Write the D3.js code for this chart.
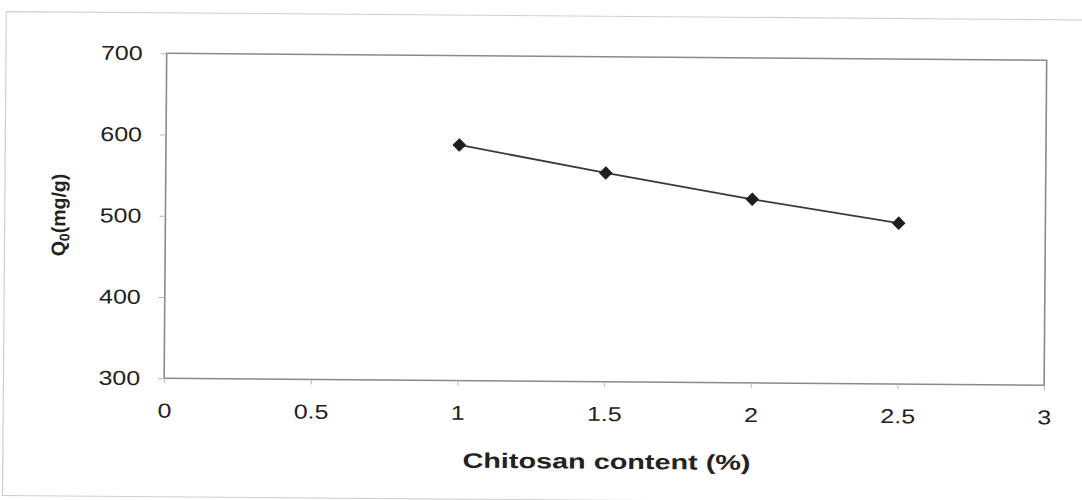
<!DOCTYPE html>
<html>
<head>
<meta charset="utf-8">
<script src="https://cdn.jsdelivr.net/npm/d3@7"></script>
<style>
  html, body { margin: 0; padding: 0; background: #fff; }
  svg { display: block; }
  text { font-family: Arial, "Liberation Sans", sans-serif; fill: #222; }
</style>
</head>
<body>
<svg id="chart" width="1082" height="500"></svg>
<script>
// Chitosan content (%) vs maximum adsorption capacity Q0 (mg/g)
const chitosan = [1, 1.5, 2, 2.5];
const q0 = [590, 557, 526, 498];
const xTicks = [0, 0.5, 1, 1.5, 2, 2.5, 3];
const yTicks = [300, 400, 500, 600, 700];

const plot = { left: 166.7, top: 53.3, width: 880, height: 325 };
const stretch = 1.25; // glyphs are set wide

const svg = d3.select("#chart");
// the whole sheet sits at a slight clockwise tilt
const root = svg.append("g")
  .attr("transform", `rotate(0.45, ${plot.left}, ${plot.top})`);

// outer sheet border
root.append("rect")
  .attr("x", 6).attr("y", plot.top - 40.5).attr("width", 1100).attr("height", 484)
  .attr("fill", "none").attr("stroke", "#cfcfcf").attr("stroke-width", 1.2);

const x = d3.scaleLinear().domain([0, 3]).range([0, plot.width]);
const y = d3.scaleLinear().domain([300, 700]).range([plot.height, 0]);

const g = root.append("g").attr("transform", `translate(${plot.left},${plot.top})`);

// plot frame
g.append("rect")
  .attr("x", 0).attr("y", 0).attr("width", plot.width).attr("height", plot.height)
  .attr("fill", "none").attr("stroke", "#8a8a8a").attr("stroke-width", 1.6);

// axes
const xAxis = g.append("g").attr("transform", `translate(0,${plot.height})`)
  .call(d3.axisBottom(x).tickValues(xTicks).tickSize(5).tickPadding(20)
    .tickFormat(d => String(d)));
const yAxis = g.append("g")
  .call(d3.axisLeft(y).tickValues(yTicks).tickSize(6).tickPadding(0)
    .tickFormat(d3.format("d")));

[xAxis, yAxis].forEach(a => {
  a.select(".domain").remove();
  a.selectAll(".tick line").attr("stroke", "#b5b5b5").attr("stroke-width", 1);
  a.selectAll(".tick text")
    .style("font-family", "Arial, 'Liberation Sans', sans-serif")
    .style("font-size", "20px").attr("fill", "#333");
});
// widen the tick glyphs horizontally, keeping their anchor points
xAxis.selectAll(".tick text")
  .attr("transform", `scale(${stretch},1)`);
yAxis.selectAll(".tick text")
  .attr("x", null)
  .attr("transform", `translate(-24,0) scale(${stretch},1)`);

// data line and diamond markers
const pts = chitosan.map((c, i) => [c, q0[i]]);
g.append("path")
  .datum(pts)
  .attr("fill", "none").attr("stroke", "#3a3a3a").attr("stroke-width", 1.8)
  .attr("d", d3.line().x(d => x(d[0])).y(d => y(d[1])));

g.selectAll(".pt").data(pts).enter().append("path")
  .attr("class", "pt")
  .attr("transform", d => `translate(${x(d[0])},${y(d[1])})`)
  .attr("d", d3.symbol().type(d3.symbolDiamond2).size(95))
  .attr("fill", "#1e1e1e").attr("stroke", "#1e1e1e").attr("stroke-width", 1);

// axis titles
g.append("text")
  .attr("x", x(1.5) + 3).attr("y", plot.height + 87)
  .attr("text-anchor", "middle")
  .attr("textLength", 288).attr("lengthAdjust", "spacingAndGlyphs")
  .style("font-weight", "bold").style("font-size", "21px")
  .text("Chitosan content (%)");

const yt = g.append("text")
  .attr("transform", `translate(${-100},${y(500)}) rotate(-90)`)
  .attr("text-anchor", "middle")
  .style("font-weight", "bold").style("font-size", "19.5px");
yt.append("tspan").text("Q");
yt.append("tspan").attr("dy", 4).style("font-size", "14px").text("0");
yt.append("tspan").attr("dy", -4).text("(mg/g)");
</script>
</body>
</html>
